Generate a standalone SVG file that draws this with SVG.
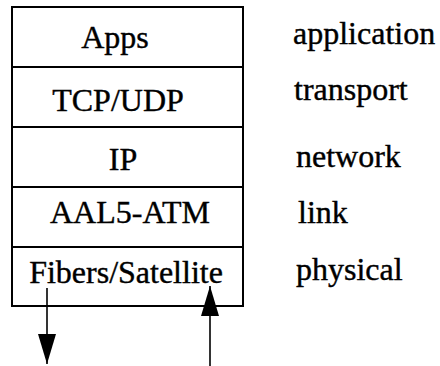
<svg xmlns="http://www.w3.org/2000/svg" width="440" height="366" viewBox="0 0 440 366">
<style>
.box{fill:#fff;stroke:#000;stroke-width:2}
text{font-family:'Liberation Serif','Times New Roman',serif;font-size:32px;fill:#000;stroke:#000;stroke-width:0.4}
.c{text-anchor:middle}
.arr{stroke:#000;stroke-width:1.6;fill:none}
</style>
<defs>
<marker id="ah" markerWidth="30" markerHeight="18" refX="30" refY="9" viewBox="0 0 30 18" markerUnits="userSpaceOnUse" orient="auto">
<path d="M0,0 L30,9 L0,18 Z" fill="#000"/>
</marker>
</defs>
<rect width="440" height="366" fill="#fff"/>
<g id="apps"><rect class="box" x="12" y="7" width="231" height="60"/><text class="c" x="115" y="48">Apps</text></g>
<g id="tcpudp"><rect class="box" x="12" y="67" width="231" height="60"/><text class="c" x="118" y="111">TCP/UDP</text></g>
<g id="ip"><rect class="box" x="12" y="127" width="231" height="60"/><text class="c" x="123" y="170">IP</text></g>
<g id="aal5"><rect class="box" x="12" y="187" width="231" height="60"/><text class="c" x="130" y="223">AAL5-ATM</text></g>
<g id="fibers"><rect class="box" x="12" y="247" width="231" height="59"/><text class="c" x="126" y="283">Fibers/Satellite</text></g>
<g id="labels">
<text x="293" y="44">application</text>
<text x="294" y="100">transport</text>
<text x="296" y="167">network</text>
<text x="298" y="223">link</text>
<text x="296" y="280">physical</text>
</g>
<g id="connectors">
<line class="arr" x1="47" y1="288" x2="47" y2="364" marker-end="url(#ah)"/>
<line class="arr" x1="210" y1="366" x2="210" y2="286" marker-end="url(#ah)"/>
</g>
</svg>
